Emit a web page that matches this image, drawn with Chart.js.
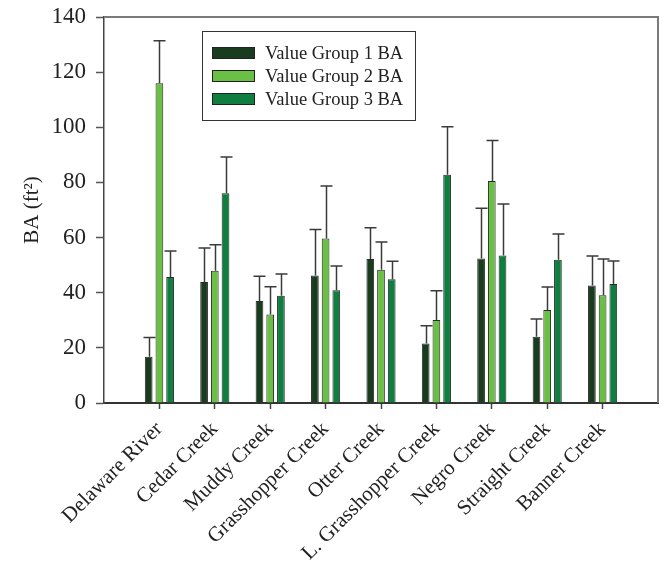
<!DOCTYPE html>
<html>
<head>
<meta charset="utf-8">
<script src="https://cdn.jsdelivr.net/npm/chart.js@4"></script>
<style>
  body { margin: 0; background: #fff; }
  #wrap { width: 666px; height: 563px; }
</style>
</head>
<body>
<div id="wrap"><canvas id="baChart" width="666" height="563"></canvas></div>
<script>
const sites = ['Delaware River', 'Cedar Creek', 'Muddy Creek', 'Grasshopper Creek', 'Otter Creek',
               'L. Grasshopper Creek', 'Negro Creek', 'Straight Creek', 'Banner Creek'];
const group1 = [16.8, 43.9, 37.0, 46.2, 52.2, 21.6, 52.4, 24.0, 42.6];
const group2 = [116.0, 48.0, 32.1, 59.7, 48.3, 30.1, 80.5, 33.7, 39.1];
const group3 = [45.7, 76.1, 38.9, 40.9, 44.9, 82.8, 53.5, 52.0, 43.2];
const group1Err = [7.0, 12.3, 9.0, 16.7, 11.4, 6.4, 18.2, 6.5, 10.7];
const group2Err = [15.4, 9.4, 10.1, 19.0, 10.1, 10.6, 14.7, 8.4, 13.1];
const group3Err = [9.4, 13.1, 7.9, 8.8, 6.5, 17.4, 18.7, 9.3, 8.3];
const yTicks = [0, 20, 40, 60, 80, 100, 120, 140];

const serif = 'Liberation Serif';
const ctx = document.getElementById('baChart');

/*
 Pad the category list with an empty slot on each side so the groups sit
 away from the axis like in the original figure
*/
function padded(arr, fill) {
    return [fill].concat(arr, [fill]);
}

/*
 Upper error bars, drawn from each bar's top through the y scale
*/
const errorBars = {
    id: 'errorBars',
    afterDatasetsDraw(chart) {
        const c = chart.ctx;
        const yScale = chart.scales.y;
        c.save();
        c.strokeStyle = '#3a3a3a';
        c.lineWidth = 1.5;
        chart.data.datasets.forEach((ds, di) => {
            const meta = chart.getDatasetMeta(di);
            meta.data.forEach((bar, i) => {
                const v = ds.data[i];
                const err = ds.errors[i];
                if (v == null || err == null) return;
                const x = Math.round(bar.x) + 0.5;
                const yTop = yScale.getPixelForValue(v + err);
                c.beginPath();
                c.moveTo(x, bar.y);
                c.lineTo(x, yTop);
                c.moveTo(x - 6, yTop);
                c.lineTo(x + 6, yTop);
                c.stroke();
            });
        });
        c.restore();
    }
};

/*
 Gray frame on top and right, plus the boxed legend inside the plot
*/
const frameAndLegend = {
    id: 'frameAndLegend',
    afterDraw(chart) {
        const c = chart.ctx;
        const a = chart.chartArea;
        c.save();
        c.strokeStyle = '#7a7a7a';
        c.lineWidth = 2;
        c.beginPath();
        c.moveTo(a.left, a.top);
        c.lineTo(a.right, a.top);
        c.lineTo(a.right, a.bottom);
        c.stroke();

        // legend box
        const bx = a.left + 98, by = a.top + 14;
        c.strokeStyle = '#333';
        c.lineWidth = 1;
        c.strokeRect(bx + 0.5, by + 0.5, 213, 89);
        c.font = '18.5px "' + serif + '"';
        c.textBaseline = 'middle';
        chart.data.datasets.forEach((ds, i) => {
            const rowY = by + 22 + i * 23;
            c.fillStyle = ds.backgroundColor;
            c.fillRect(bx + 10, rowY - 6, 43, 12);
            c.strokeStyle = '#222';
            c.strokeRect(bx + 10.5, rowY - 5.5, 42, 11);
            c.fillStyle = '#222';
            c.fillText(ds.label, bx + 63, rowY + 1);
        });
        c.restore();
    }
};

new Chart(ctx, {
    type: 'bar',
    data: {
        labels: padded(sites, ''),
        datasets: [{
            label: 'Value Group 1 BA',
            data: padded(group1, null),
            errors: padded(group1Err, null),
            backgroundColor: '#183c1d',
            borderColor: '#2a2a2a',
            borderWidth: 1
        }, {
            label: 'Value Group 2 BA',
            data: padded(group2, null),
            errors: padded(group2Err, null),
            backgroundColor: '#6abf45',
            borderColor: '#2a2a2a',
            borderWidth: 1
        }, {
            label: 'Value Group 3 BA',
            data: padded(group3, null),
            errors: padded(group3Err, null),
            backgroundColor: '#0f7f40',
            borderColor: '#2a2a2a',
            borderWidth: 1
        }]
    },
    options: {
        responsive: false,
        animation: false,
        categoryPercentage: 0.58,
        barPercentage: 0.72,
        layout: { padding: { top: 17, right: 8, left: 0, bottom: 0 } },
        plugins: {
            legend: { display: false },
            tooltip: { enabled: false }
        },
        scales: {
            x: {
                offset: false,
                afterFit: (scale) => {
                    scale.height = 160;
                    scale.paddingLeft = 0;
                    scale.paddingRight = 0;
                },
                grid: {
                    offset: false,
                    drawOnChartArea: false,
                    tickLength: 6,
                    tickWidth: 1.5,
                    tickColor: (c) => (c.index === 0 || c.index === sites.length + 1) ? 'rgba(0,0,0,0)' : '#444'
                },
                border: { color: '#333', width: 2 },
                ticks: {
                    autoSkip: false,
                    minRotation: 45,
                    maxRotation: 45,
                    padding: 8,
                    color: '#222',
                    font: { family: serif, size: 21 }
                }
            },
            y: {
                min: 0,
                max: 140,
                afterFit: (scale) => {
                    scale.width = 104;
                    scale.paddingTop = 0;
                    scale.paddingBottom = 0;
                },
                afterBuildTicks: (scale) => { scale.ticks = yTicks.map(v => ({ value: v })); },
                grid: {
                    drawOnChartArea: false,
                    tickLength: 8,
                    tickWidth: 1.5,
                    tickColor: '#555'
                },
                border: { color: '#444', width: 1.5 },
                ticks: {
                    padding: 10,
                    color: '#222',
                    font: { family: serif, size: 23 }
                },
                title: {
                    display: true,
                    text: 'BA (ft²)',
                    color: '#222',
                    padding: { top: 20 },
                    font: { family: serif, size: 21 }
                }
            }
        }
    },
    plugins: [errorBars, frameAndLegend]
});
</script>
</body>
</html>
